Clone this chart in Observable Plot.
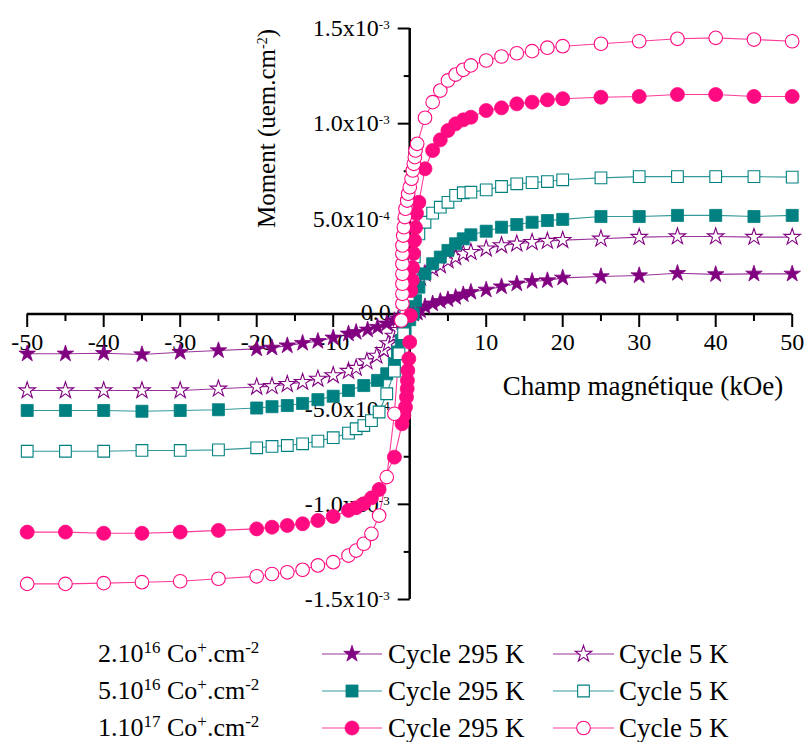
<!DOCTYPE html>
<html>
<head>
<meta charset="utf-8">
<script src="https://cdn.jsdelivr.net/npm/d3@7"></script>
<script src="https://cdn.jsdelivr.net/npm/@observablehq/plot@0.6"></script>
<style>
  html, body { margin: 0; padding: 0; background: #fff; }
  body { width: 807px; font-family: "Liberation Serif", "Times New Roman", serif; color: #000; }
  #legend { position: relative; width: 807px; height: 127px; }
  .lg { position: absolute; height: 36px; line-height: 36px; white-space: nowrap; }
  .dose { font-size: 26px; }
  .cyc { font-size: 27px; }
  .sup { font-size: 17px; position: relative; top: -9px; }
</style>
</head>
<body>
<div id="chart"></div>
<div id="legend"></div>
<script>
// ---------- data (moment in units of 1e-3 uem.cm^-2, field in kOe) ----------
const star295X = [-50,-45,-40,-35,-30,-25,-20,-18,-16,-14,-12,-10,-8,-7,-5.5,-4.2,-3,-2,-1.5,-1,-0.5,0,0.5,1,1.4,2,3,4,5,6,7,8,10,12,14,16,18,20,25,30,35,40,45,50];
const star295Y = [-0.209,-0.209,-0.206,-0.213,-0.201,-0.192,-0.183,-0.178,-0.166,-0.153,-0.143,-0.125,-0.104,-0.096,-0.083,-0.069,-0.051,-0.034,-0.025,-0.016,-0.008,-0.003,0.0,0.006,0.018,0.039,0.054,0.067,0.076,0.088,0.102,0.115,0.127,0.144,0.159,0.172,0.176,0.19,0.197,0.202,0.214,0.208,0.211,0.211];

const star5X = [-50,-45,-40,-35,-30,-25,-20,-18,-16,-14,-12,-10,-8,-7,-5.6,-4.3,-3.4,-2.8,-2.1,-1.5,-1,-0.6,-0.2,0.3,0.8,1.4,2,3,4,5,6,7,8,10,12,14,16,18,20,25,30,35,40,45,50];
const star5Y = [-0.402,-0.402,-0.402,-0.402,-0.402,-0.393,-0.383,-0.38,-0.369,-0.358,-0.341,-0.323,-0.3,-0.284,-0.25,-0.22,-0.19,-0.155,-0.115,-0.085,-0.04,0.02,0.08,0.13,0.165,0.19,0.211,0.237,0.255,0.281,0.298,0.316,0.325,0.343,0.36,0.369,0.377,0.383,0.388,0.395,0.404,0.407,0.407,0.404,0.404];

const sq295X = [-50,-45,-40,-35,-30,-25,-20,-18,-16,-14,-12,-10,-8,-6,-4.2,-3,-2,-1.6,-1.1,-0.6,0,0.46,0.76,1.2,2,3,4,5,6,7,8,10,12,14,16,18,20,25,30,35,40,45,50];
const sq295Y = [-0.507,-0.507,-0.507,-0.511,-0.507,-0.503,-0.494,-0.487,-0.481,-0.47,-0.45,-0.432,-0.402,-0.376,-0.349,-0.314,-0.262,-0.2,-0.14,-0.08,-0.03,0.0,0.07,0.141,0.211,0.264,0.299,0.334,0.369,0.395,0.416,0.435,0.456,0.47,0.482,0.491,0.497,0.512,0.512,0.518,0.518,0.512,0.518];

const sq5X = [-50,-45,-40,-35,-30,-25,-20,-18,-16,-14,-12,-10,-8,-7,-6,-5,-4,-3,-2,-1.4,-0.8,-0.5,-0.2,0.2,0.6,1.2,2,3,4,5,6,7,8,10,12,14,16,18,20,25,30,35,40,45,50];
const sq5Y = [-0.721,-0.721,-0.721,-0.717,-0.717,-0.714,-0.703,-0.696,-0.691,-0.682,-0.668,-0.65,-0.626,-0.603,-0.586,-0.56,-0.515,-0.419,-0.30,-0.209,-0.104,0.0,0.1,0.2,0.3,0.421,0.482,0.53,0.561,0.587,0.623,0.637,0.640,0.652,0.670,0.684,0.690,0.696,0.705,0.715,0.722,0.722,0.722,0.722,0.719];

const circ295X = [-50,-45,-40,-35,-30,-25,-20,-18,-16,-14,-12,-10,-8,-7,-6,-5,-4,-2,-1,-0.77,-0.55,-0.42,-0.33,-0.3,-0.25,-0.12,0,0.1,0.15,0.33,0.37,0.5,0.63,0.76,0.89,1.2,2,3,4,5,6,7,8,10,12,14,16,18,20,25,30,35,40,45,50];
const circ295Y = [-1.146,-1.146,-1.152,-1.152,-1.146,-1.137,-1.129,-1.120,-1.111,-1.102,-1.085,-1.064,-1.032,-1.018,-0.997,-0.966,-0.922,-0.752,-0.577,-0.533,-0.49,-0.437,-0.393,-0.349,-0.297,-0.235,-0.148,-0.008,0.123,0.176,0.244,0.318,0.386,0.454,0.528,0.587,0.763,0.859,0.915,0.964,0.999,1.02,1.034,1.069,1.083,1.104,1.113,1.125,1.131,1.139,1.143,1.153,1.153,1.143,1.143];

const circ5X = [-50,-45,-40,-35,-30,-25,-20,-18,-16,-14,-12,-10,-8,-7,-6,-5,-4,-3,-2,-1.1,-0.95,-0.95,-0.95,-0.95,-0.95,-0.95,-0.95,-0.85,-0.77,-0.64,-0.55,-0.33,-0.2,0.01,0.24,0.4,0.54,0.67,0.76,0.98,2,3,4,5,6,7,8,10,12,14,16,18,20,25,30,35,40,45,50];
const circ5Y = [-1.418,-1.418,-1.414,-1.409,-1.404,-1.391,-1.378,-1.366,-1.357,-1.344,-1.321,-1.304,-1.269,-1.243,-1.207,-1.155,-1.059,-0.857,-0.524,-0.034,0.054,0.106,0.159,0.211,0.264,0.316,0.36,0.412,0.456,0.509,0.553,0.596,0.632,0.666,0.710,0.754,0.789,0.824,0.859,0.894,1.031,1.113,1.174,1.227,1.258,1.283,1.306,1.332,1.353,1.370,1.381,1.399,1.407,1.420,1.433,1.446,1.451,1.442,1.433];

const fieldTicksMajor = [-50,-40,-30,-20,-10,10,20,30,40,50];
const fieldTickLabels = ["-50","-40","-30","-20","-10","10","20","30","40","50"];
const fieldTicksMinor = [-45,-35,-25,-15,-5,5,15,25,35,45];
const momentTicksMajor = [-1.5,-1.0,-0.5,0.5,1.0,1.5];
const momentTickLabels = ["-1.5x10^{-3}","-1.0x10^{-3}","-5.0x10^{-4}","5.0x10^{-4}","1.0x10^{-3}","1.5x10^{-3}"];
const momentTicksMinor = [-1.25,-0.75,-0.25,0.25,0.75,1.25];
const zeroLabel = "0.0";
const xTitle = "Champ magnétique (kOe)";
const yTitle = "Moment (uem.cm^{-2})";
const doseLabels = ["2.10^{16} Co^{+}.cm^{-2}", "5.10^{16} Co^{+}.cm^{-2}", "1.10^{17} Co^{+}.cm^{-2}"];
const cycleLabels = ["Cycle 295 K", "Cycle 5 K"];

// ---------- styles ----------
const PURPLE = "#800080", TEAL = "#008080", PINK = "#ff0a80";
const series = [
  {X: star295X, Y: star295Y, color: PURPLE, symbol: "star", r: 5.2, filled: true},
  {X: star5X, Y: star5Y, color: PURPLE, symbol: "star", r: 5.2, filled: false},
  {X: sq295X, Y: sq295Y, color: TEAL, symbol: "square", r: 6.8, filled: true},
  {X: sq5X, Y: sq5Y, color: TEAL, symbol: "square", r: 6.6, filled: false},
  {X: circ295X, Y: circ295Y, color: PINK, symbol: "circle", r: 7, filled: true},
  {X: circ5X, Y: circ5Y, color: PINK, symbol: "circle", r: 6.8, filled: false}
];
const legendLayout = [[0, 1], [2, 3], [4, 5]];

// tick symbols (drawn at the scaled tick position)
const tickDown = len => ({draw(ctx) { ctx.moveTo(0, 0); ctx.lineTo(0, len); }});
const tickLeft = len => ({draw(ctx) { ctx.moveTo(0, 0); ctx.lineTo(-len, 0); }});

const marks = [
  Plot.ruleY([0], {x1: -50, x2: 50, stroke: "#000", strokeWidth: 2.5}),
  Plot.ruleX([0], {y1: -1.5, y2: 1.5, stroke: "#000", strokeWidth: 2.5}),
  Plot.dot(fieldTicksMajor, {x: d => d, y: () => 0, symbol: tickDown(13), fill: "none", stroke: "#000", strokeWidth: 2}),
  Plot.dot(fieldTicksMinor, {x: d => d, y: () => 0, symbol: tickDown(7), fill: "none", stroke: "#000", strokeWidth: 2}),
  Plot.dot(momentTicksMajor, {x: () => 0, y: d => d, symbol: tickLeft(12), fill: "none", stroke: "#000", strokeWidth: 2}),
  Plot.dot(momentTicksMinor, {x: () => 0, y: d => d, symbol: tickLeft(6), fill: "none", stroke: "#000", strokeWidth: 2}),
  Plot.text(fieldTicksMajor, {x: d => d, y: () => 0, text: (d, i) => fieldTickLabels[i], dy: 28, fontSize: 24}),
  Plot.text(momentTicksMajor, {x: () => 0, y: d => d, text: (d, i) => momentTickLabels[i], textAnchor: "end", dx: -20, fontSize: 24}),
  Plot.text([zeroLabel], {x: () => 0, y: () => 0, text: d => d, textAnchor: "end", dx: -19, dy: -2, fontSize: 24}),
  Plot.text([xTitle], {x: () => 50, y: () => 0, text: d => d, textAnchor: "end", dx: -9, dy: 72, fontSize: 27}),
  Plot.text([yTitle], {x: () => 0, y: () => 1.5, text: d => d, rotate: -90, textAnchor: "middle", dx: -143, dy: 100, fontSize: 25})
];

for (const s of series) {
  const idx = d3.range(s.X.length);
  marks.push(Plot.line(idx, {x: i => s.X[i], y: i => s.Y[i], stroke: s.color, strokeWidth: 1.1, strokeOpacity: 0.8}));
}
for (const s of series) {
  const idx = d3.range(s.X.length);
  marks.push(Plot.dot(idx, {x: i => s.X[i], y: i => s.Y[i], symbol: s.symbol, r: s.r,
    fill: s.filled ? s.color : "#fff", stroke: s.color, strokeWidth: s.filled ? 0.8 : 1.1}));
}

const chart = Plot.plot({
  width: 807,
  height: 615,
  marginLeft: 26.7,
  marginRight: 15.3,
  marginTop: 28,
  marginBottom: 16,
  x: {domain: [-50, 50], axis: null},
  y: {domain: [-1.5, 1.5], axis: null},
  style: {fontFamily: "Liberation Serif, Times New Roman, serif", fontSize: "24px", background: "#fff", color: "#000", overflow: "visible"},
  marks
});
document.getElementById("chart").appendChild(chart);

// superscripts in svg text: "^{...}"
function supify(root) {
  root.querySelectorAll("text").forEach(t => {
    const s = t.textContent;
    if (!s.includes("^{")) return;
    const fs = parseFloat(getComputedStyle(t).fontSize) || 24;
    const parts = s.split(/\^\{([^}]*)\}/);
    while (t.firstChild) t.removeChild(t.firstChild);
    let raised = false;
    const shift = Math.round(fs * 0.3);
    parts.forEach((p, i) => {
      if (p === "") return;
      const sup = i % 2 === 1;
      const ts = document.createElementNS("http://www.w3.org/2000/svg", "tspan");
      if (sup && !raised) { ts.setAttribute("dy", -shift); raised = true; }
      else if (!sup && raised) { ts.setAttribute("dy", shift); raised = false; }
      if (sup) ts.setAttribute("font-size", Math.round(fs * 0.55));
      ts.textContent = p;
      t.appendChild(ts);
    });
  });
}
supify(chart);

// ---------- legend ----------
function supHTML(str) {
  return str.replace(/\^\{([^}]*)\}/g, '<span class="sup">$1</span>');
}
const legend = document.getElementById("legend");
const symbolMap = {star: d3.symbolStar, square: d3.symbolSquare, circle: d3.symbolCircle};
function legendSwatch(s, left, top, w) {
  const svg = d3.create("svg").attr("width", w).attr("height", 36)
    .style("position", "absolute").style("left", left + "px").style("top", top + "px");
  svg.append("line").attr("x1", 0).attr("x2", w).attr("y1", 18).attr("y2", 18)
    .attr("stroke", s.color).attr("stroke-width", 1.2).attr("stroke-opacity", 0.8);
  svg.append("path").attr("transform", `translate(${w / 2},18)`)
    .attr("d", d3.symbol(symbolMap[s.symbol], Math.PI * s.r * s.r)())
    .attr("fill", s.filled ? s.color : "#fff").attr("stroke", s.color).attr("stroke-width", s.filled ? 0.8 : 1.1);
  legend.appendChild(svg.node());
}
legendLayout.forEach((pair, row) => {
  const top = 21 + 37 * row;
  const d = document.createElement("div");
  d.className = "lg dose"; d.style.left = "98px"; d.style.top = top + "px";
  d.innerHTML = supHTML(doseLabels[row]);
  legend.appendChild(d);
  legendSwatch(series[pair[0]], 322, top, 60);
  const c1 = document.createElement("div");
  c1.className = "lg cyc"; c1.style.left = "388px"; c1.style.top = top + "px";
  c1.textContent = cycleLabels[0];
  legend.appendChild(c1);
  legendSwatch(series[pair[1]], 553, top, 61);
  const c2 = document.createElement("div");
  c2.className = "lg cyc"; c2.style.left = "619px"; c2.style.top = top + "px";
  c2.textContent = cycleLabels[1];
  legend.appendChild(c2);
});
</script>
</body>
</html>
